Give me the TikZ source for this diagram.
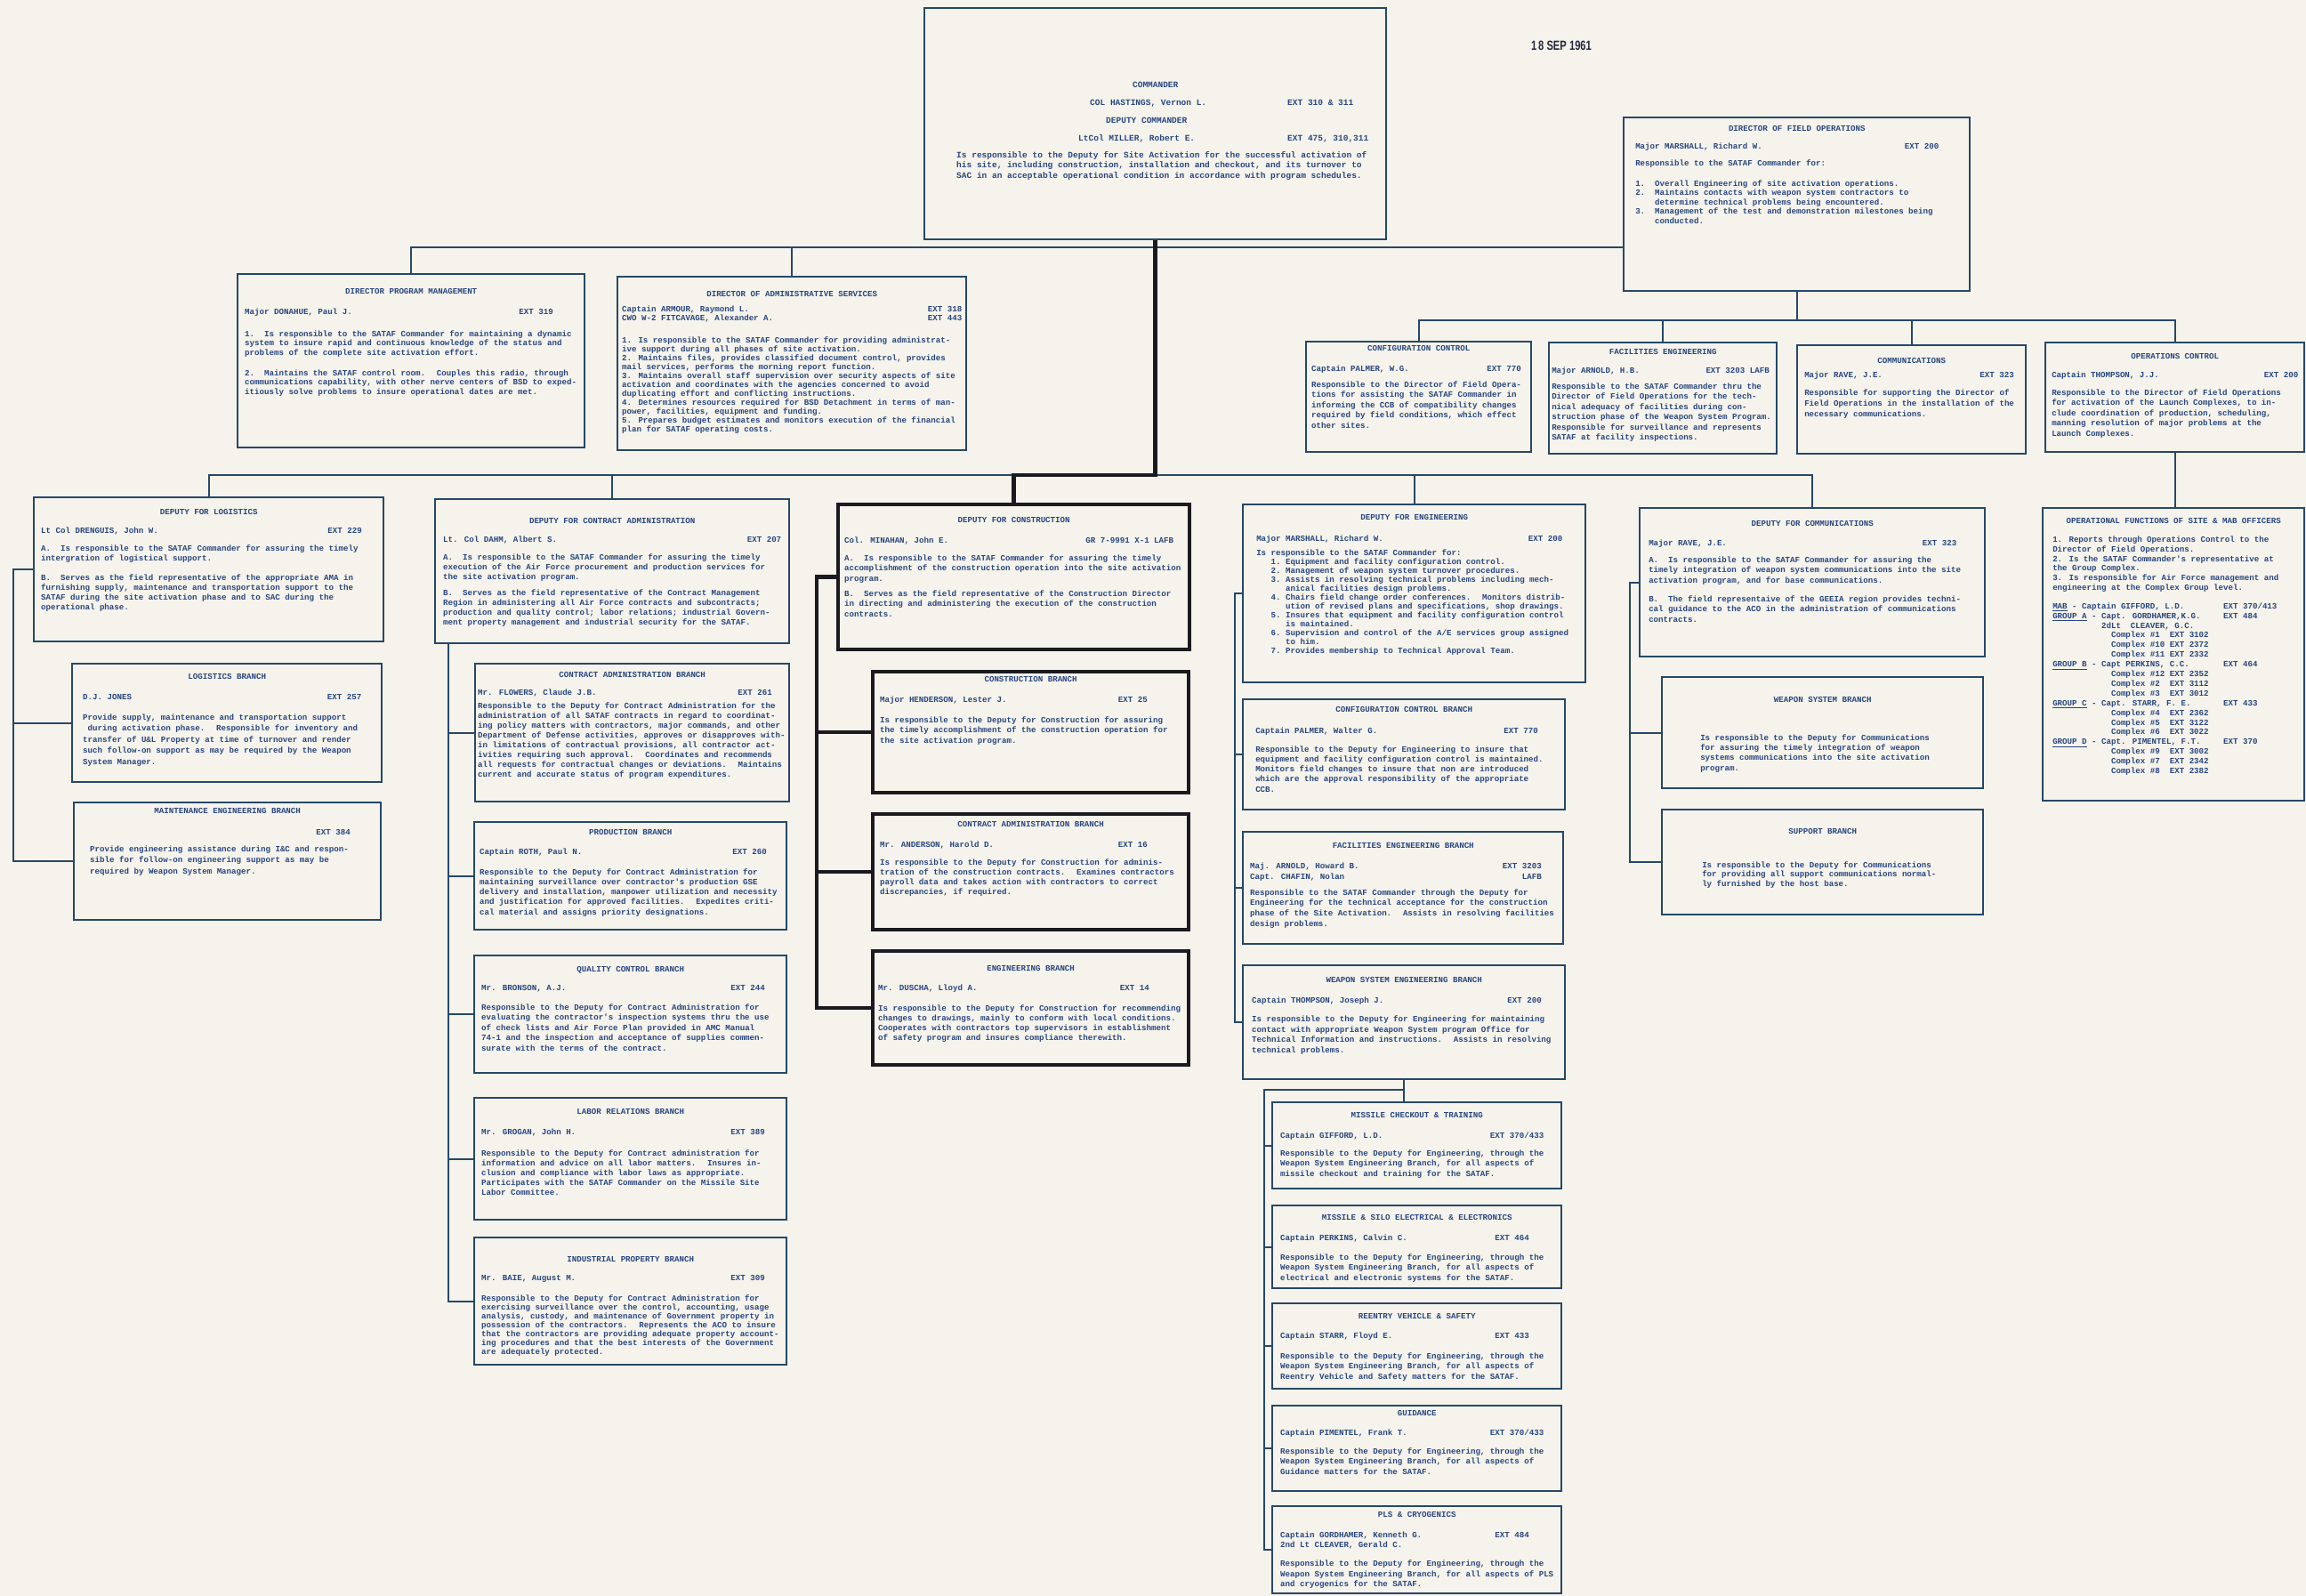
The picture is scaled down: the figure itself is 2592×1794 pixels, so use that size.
\documentclass[tikz,border=0pt]{standalone}
\usepackage{fontspec}
\newfontfamily\typefont{Liberation Mono}
\newfontfamily\stampfont{Liberation Sans}

\definecolor{paper}{RGB}{245,243,235}
\definecolor{ink}{RGB}{40,70,128}
\definecolor{rule}{RGB}{38,72,104}
\definecolor{heavy}{RGB}{26,26,32}
\definecolor{stampink}{RGB}{36,40,64}

% one drawing unit is one pixel of the sheet
\newdimen\pxu \pxu=0.02cm
\newdimen\chw
\newdimen\cardw
\newcommand\typestyle{\typefont\bfseries\fontsize{5.2pt}{5.4pt}\selectfont
  \baselineskip=11.5\pxu \settowidth\chw{0}\raggedright\parindent=0pt}
\newcommand\lsp[1]{\baselineskip=#1\pxu\relax}
\newcommand\gap[1]{\par\vskip#1\pxu\relax}
\newcommand\ttl[1]{\par\hbox to\cardw{\hss#1\hss}}
\newcommand\who[2]{\par\hbox to\cardw{#1\hfil#2}}
\newcommand\cols[1]{\par\hbox to\cardw{#1\hss}}
\newcommand\atpx[2]{\rlap{\hskip#1\pxu\relax#2}}
\newcommand\atch[2]{\rlap{\hskip#1\chw\relax#2}}
\newcommand\indch[1]{\hspace*{#1\chw}}
% width, height, side margin, top margin, typed text
\newcommand\cardbody[5]{%
  \cardw=\dimexpr\numexpr#1-2*#3\relax\pxu\relax
  \vbox to #2\pxu{\vskip#4\pxu
    \hbox to #1\pxu{\hskip#3\pxu
      \parbox[t]{\dimexpr\cardw+60\pxu\relax}{\typestyle #5}\hss}%
    \vss}}

\tikzset{
  card/.style={draw=rule, line width=1.4pt, inner sep=0pt, anchor=north west, text=ink},
  heavycard/.style={card, draw=heavy, line width=2.4pt},
  wire/.style={draw=rule, line width=1.3pt},
  stem/.style={draw=heavy, line width=2.6pt},
  stamp/.style={text=stampink, inner sep=0pt,
    font=\stampfont\bfseries\fontsize{8.5pt}{8.5pt}\selectfont},
}

\begin{document}
\begin{tikzpicture}[x=0.02cm, y=-0.02cm]
\useasboundingbox (0,0) rectangle (2592,1794);
\fill[paper] (0,0) rectangle (2592,1794);

\node[stamp] (stampdate) at (1755,51) {\scalebox{0.75}[1]{1\,8 SEP 1961}};

% commander and staff
\node[card] (cmd) at (1038,8) {\cardbody{519}{260}{36}{83}{%
\fontsize{5.4pt}{6pt}\selectfont\lsp{11.5}%
\ttl{COMMANDER}
\gap{8.5}
\cols{\atpx{150}{COL HASTINGS, Vernon L.}\atpx{372}{EXT 310 \& 311}}
\gap{8.5}
\cols{\atpx{168}{DEPUTY COMMANDER}}
\gap{8.5}
\cols{\atpx{137}{LtCol MILLER, Robert E.}\atpx{372}{EXT 475, 310,311}}
\gap{7}
Is responsible to the Deputy for Site Activation for the successful activation of\\
his site, including construction, installation and checkout, and its turnover to\\
SAC in an acceptable operational condition in accordance with program schedules.}};

\node[card] (dfo) at (1824,131) {\cardbody{389}{195}{13}{9}{%
\ttl{DIRECTOR OF FIELD OPERATIONS}
\gap{8.5}
\who{Major MARSHALL, Richard W.}{EXT 200\indch{4}}
\gap{8.5}
Responsible to the SATAF Commander for:
\lsp{10.5}\gap{12.5}
1.\indch{2}Overall Engineering of site activation operations.\\
2.\indch{2}Maintains contacts with weapon system contractors to\\
\indch{4}determine technical problems being encountered.\\
3.\indch{2}Management of the test and demonstration milestones being\\
\indch{4}conducted.}};

\node[card] (dpm) at (266,307) {\cardbody{390}{195}{8}{16}{%
\ttl{DIRECTOR PROGRAM MANAGEMENT}
\gap{11.5}
\who{Major DONAHUE, Paul J.}{EXT 319\indch{5}}
\lsp{10.5}\gap{14.5}
1.\indch{2}Is responsible to the SATAF Commander for maintaining a dynamic\\
system to insure rapid and continuous knowledge of the status and\\
problems of the complete site activation effort.
\gap{12.5}
2.\indch{2}Maintains the SATAF control room.~ Couples this radio, through\\
communications capability, with other nerve centers of BSD to exped-\\
itiously solve problems to insure operational dates are met.}};

\node[card] (das) at (693,310) {\cardbody{392}{195}{5}{16}{%
\lsp{10}%
\ttl{DIRECTOR OF ADMINISTRATIVE SERVICES}
\gap{7}
\who{Captain ARMOUR, Raymond L.}{EXT 318}
\who{CWO W-2 FITCAVAGE, Alexander A.}{EXT 443}
\gap{15}
1. Is responsible to the SATAF Commander for providing administrat-\\
ive support during all phases of site activation.\\
2. Maintains files, provides classified document control, provides\\
mail services, performs the morning report function.\\
3. Maintains overall staff supervision over security aspects of site\\
activation and coordinates with the agencies concerned to avoid\\
duplicating effort and conflicting instructions.\\
4. Determines resources required for BSD Detachment in terms of man-\\
power, facilities, equipment and funding.\\
5. Prepares budget estimates and monitors execution of the financial\\
plan for SATAF operating costs.}};

% offices under field operations
\node[card] (cfg) at (1467,383) {\cardbody{253}{124}{6}{4}{%
\ttl{CONFIGURATION CONTROL}
\gap{11.5}
\who{Captain PALMER, W.G.}{EXT 770\indch{1}}
\gap{6.5}
Responsible to the Director of Field Opera-\\
tions for assisting the SATAF Commander in\\
informing the CCB of compatibility changes\\
required by field conditions, which effect\\
other sites.}};

\node[card] (fac) at (1740,384) {\cardbody{256}{125}{3}{7}{%
\ttl{FACILITIES ENGINEERING}
\gap{9.5}
\who{Major ARNOLD, H.B.}{EXT 3203 LAFB\indch{1}}
\gap{6.5}
Responsible to the SATAF Commander thru the\\
Director of Field Operations for the tech-\\
nical adequacy of facilities during con-\\
struction phase of the Weapon System Program.\\
Responsible for surveillance and represents\\
SATAF at facility inspections.}};

\node[card] (cmn) at (2019,387) {\cardbody{257}{122}{8}{14}{%
\ttl{COMMUNICATIONS}
\gap{4.5}
\who{Major RAVE, J.E.}{EXT 323\indch{1}}
\lsp{12}\gap{8}
Responsible for supporting the Director of\\
Field Operations in the installation of the\\
necessary communications.}};

\node[card] (opc) at (2298,384) {\cardbody{291}{123}{7}{12}{%
\ttl{OPERATIONS CONTROL}
\gap{9.5}
\who{Captain THOMPSON, J.J.}{EXT 200}
\gap{8.5}
Responsible to the Director of Field Operations\\
for activation of the Launch Complexes, to in-\\
clude coordination of production, scheduling,\\
manning resolution of major problems at the\\
Launch Complexes.}};

\node[card] (opf) at (2295,570) {\cardbody{294}{329}{11}{11}{%
\lsp{10.9}%
\ttl{OPERATIONAL FUNCTIONS OF SITE \& MAB OFFICERS}
\gap{10}
1. Reports through Operations Control to the\\
Director of Field Operations.\\
2. Is the SATAF Commander's representative at\\
the Group Complex.\\
3. Is responsible for Air Force management and\\
engineering at the Complex Group level.
\gap{9.6}
\cols{\atch{0}{\underline{MAB} - Captain GIFFORD, L.D.}\atch{35}{EXT 370/413}}
\cols{\atch{0}{\underline{GROUP A} - Capt. GORDHAMER,K.G.}\atch{35}{EXT 484}}
\cols{\atch{10}{2dLt~ CLEAVER, G.C.}}
\cols{\atch{12}{Complex \#1}\atch{24}{EXT 3102}}
\cols{\atch{12}{Complex \#10}\atch{24}{EXT 2372}}
\cols{\atch{12}{Complex \#11}\atch{24}{EXT 2332}}
\cols{\atch{0}{\underline{GROUP B} - Capt PERKINS, C.C.}\atch{35}{EXT 464}}
\cols{\atch{12}{Complex \#12}\atch{24}{EXT 2352}}
\cols{\atch{12}{Complex \#2}\atch{24}{EXT 3112}}
\cols{\atch{12}{Complex \#3}\atch{24}{EXT 3012}}
\cols{\atch{0}{\underline{GROUP C} - Capt. STARR, F. E.}\atch{35}{EXT 433}}
\cols{\atch{12}{Complex \#4}\atch{24}{EXT 2362}}
\cols{\atch{12}{Complex \#5}\atch{24}{EXT 3122}}
\cols{\atch{12}{Complex \#6}\atch{24}{EXT 3022}}
\cols{\atch{0}{\underline{GROUP D} - Capt. PIMENTEL, F.T.}\atch{35}{EXT 370}}
\cols{\atch{12}{Complex \#9}\atch{24}{EXT 3002}}
\cols{\atch{12}{Complex \#7}\atch{24}{EXT 2342}}
\cols{\atch{12}{Complex \#8}\atch{24}{EXT 2382}}}};

% logistics
\node[card] (dlog) at (37,558) {\cardbody{393}{162}{8}{13}{%
\lsp{11}%
\ttl{DEPUTY FOR LOGISTICS}
\gap{10}
\who{Lt Col DRENGUIS, John W.}{EXT 229\indch{3}}
\gap{9}
A.\indch{2}Is responsible to the SATAF Commander for assuring the timely\\
intergration of logistical support.
\gap{11}
B.\indch{2}Serves as the field representative of the appropriate AMA in\\
furnishing supply, maintenance and transportation support to the\\
SATAF during the site activation phase and to SAC during the\\
operational phase.}};

\node[card] (lbr) at (80,745) {\cardbody{348}{133}{12}{11}{%
\lsp{12.5}%
\ttl{LOGISTICS BRANCH}
\gap{10.5}
\who{D.J. JONES}{EXT 257\indch{2}}
\gap{10.5}
Provide supply, maintenance and transportation support\\
\indch{1}during activation phase.~ Responsible for inventory and\\
transfer of U\&L Property at time of turnover and render\\
such follow-on support as may be required by the Weapon\\
System Manager.}};

\node[card] (mnt) at (82,901) {\cardbody{345}{132}{18}{6}{%
\lsp{12.5}%
\ttl{MAINTENANCE ENGINEERING BRANCH}
\gap{11.5}
\who{}{EXT 384\indch{3}}
\gap{6.5}
Provide engineering assistance during I\&C and respon-\\
sible for follow-on engineering support as may be\\
required by Weapon System Manager.}};

% contract administration
\node[card] (dca) at (488,560) {\cardbody{398}{162}{9}{21}{%
\lsp{11}%
\ttl{DEPUTY FOR CONTRACT ADMINISTRATION}
\gap{10}
\who{Lt. Col DAHM, Albert S.}{EXT 207}
\gap{9}
A.\indch{2}Is responsible to the SATAF Commander for assuring the timely\\
execution of the Air Force procurement and production services for\\
the site activation program.
\gap{7}
B.\indch{2}Serves as the field representative of the Contract Management\\
Region in administering all Air Force contracts and subcontracts;\\
production and quality control; labor relations; industrial Govern-\\
ment property management and industrial security for the SATAF.}};

\node[card] (cab) at (533,745) {\cardbody{353}{155}{3}{9}{%
\lsp{11}%
\ttl{CONTRACT ADMINISTRATION BRANCH}
\gap{9}
\who{Mr. FLOWERS, Claude J.B.}{EXT 261\indch{3}}
\gap{4}
Responsible to the Deputy for Contract Administration for the\\
administration of all SATAF contracts in regard to coordinat-\\
ing policy matters with contractors, major commands, and other\\
Department of Defense activities, approves or disapproves with-\\
in limitations of contractual provisions, all contractor act-\\
ivities requiring such approval.~ Coordinates and recommends\\
all requests for contractual changes or deviations.~ Maintains\\
current and accurate status of program expenditures.}};

\node[card] (prd) at (532,923) {\cardbody{351}{121}{6}{8}{%
\lsp{11.2}%
\ttl{PRODUCTION BRANCH}
\gap{10.8}
\who{Captain ROTH, Paul N.}{EXT 260\indch{3}}
\gap{11.8}
Responsible to the Deputy for Contract Administration for\\
maintaining surveillance over contractor's production GSE\\
delivery and installation, manpower utilization and necessity\\
and justification for approved facilities.~ Expedites criti-\\
cal material and assigns priority designations.}};

\node[card] (qcb) at (532,1073) {\cardbody{351}{132}{8}{12}{%
\ttl{QUALITY CONTROL BRANCH}
\gap{9.5}
\who{Mr. BRONSON, A.J.}{EXT 244\indch{3}}
\gap{10.5}
Responsible to the Deputy for Contract Administration for\\
evaluating the contractor's inspection systems thru the use\\
of check lists and Air Force Plan provided in AMC Manual\\
74-1 and the inspection and acceptance of supplies commen-\\
surate with the terms of the contract.}};

\node[card] (lrb) at (532,1233) {\cardbody{351}{137}{8}{12}{%
\lsp{11}%
\ttl{LABOR RELATIONS BRANCH}
\gap{12}
\who{Mr. GROGAN, John H.}{EXT 389\indch{3}}
\gap{13}
Responsible to the Deputy for Contract administration for\\
information and advice on all labor matters.~ Insures in-\\
clusion and compliance with labor laws as appropriate.\\
Participates with the SATAF Commander on the Missile Site\\
Labor Committee.}};

\node[card] (ipb) at (532,1390) {\cardbody{351}{143}{8}{21}{%
\lsp{10}%
\ttl{INDUSTRIAL PROPERTY BRANCH}
\gap{11}
\who{Mr. BAIE, August M.}{EXT 309\indch{3}}
\gap{13}
Responsible to the Deputy for Contract Administration for\\
exercising surveillance over the control, accounting, usage\\
analysis, custody, and maintenance of Government property in\\
possession of the contractors.~ Represents the ACO to insure\\
that the contractors are providing adequate property account-\\
ing procedures and that the best interests of the Government\\
are adequately protected.}};

% construction
\node[heavycard] (dcon) at (940,565) {\cardbody{395}{163}{7}{14}{%
\ttl{DEPUTY FOR CONSTRUCTION}
\gap{11.5}
\who{Col. MINAHAN, John E.}{GR 7-9991 X-1 LAFB\indch{2}}
\gap{8.5}
A.\indch{2}Is responsible to the SATAF Commander for assuring the timely\\
accomplishment of the construction operation into the site activation\\
program.
\gap{5.5}
B.\indch{2}Serves as the field representative of the Construction Director\\
in directing and administering the execution of the construction\\
contracts.}};

\node[heavycard] (cbr) at (979,753) {\cardbody{355}{136}{8}{5}{%
\ttl{CONSTRUCTION BRANCH}
\gap{11.5}
\who{Major HENDERSON, Lester J.}{EXT 25\indch{7}}
\gap{11.5}
Is responsible to the Deputy for Construction for assuring\\
the timely accomplishment of the construction operation for\\
the site activation program.}};

\node[heavycard] (cadm) at (979,913) {\cardbody{355}{130}{8}{8}{%
\lsp{11}%
\ttl{CONTRACT ADMINISTRATION BRANCH}
\gap{12}
\who{Mr. ANDERSON, Harold D.}{EXT 16\indch{7}}
\gap{9}
Is responsible to the Deputy for Construction for adminis-\\
tration of the construction contracts.~ Examines contractors\\
payroll data and takes action with contractors to correct\\
discrepancies, if required.}};

\node[heavycard] (ebr) at (979,1067) {\cardbody{355}{128}{6}{16}{%
\lsp{11}%
\ttl{ENGINEERING BRANCH}
\gap{11}
\who{Mr. DUSCHA, Lloyd A.}{EXT 14\indch{7}}
\gap{12}
Is responsible to the Deputy for Construction for recommending\\
changes to drawings, mainly to conform with local conditions.\\
Cooperates with contractors top supervisors in establishment\\
of safety program and insures compliance therewith.}};

% engineering
\node[card] (deng) at (1396,566) {\cardbody{385}{200}{15}{11}{%
\ttl{DEPUTY FOR ENGINEERING}
\gap{12.5}
\who{Major MARSHALL, Richard W.}{EXT 200\indch{2}}
\lsp{10}\gap{6}
Is responsible to the SATAF Commander for:\\
\indch{3}1.\indch{1}Equipment and facility configuration control.\\
\indch{3}2.\indch{1}Management of weapon system turnover procedures.\\
\indch{3}3.\indch{1}Assists in resolving technical problems including mech-\\
\indch{6}anical facilities design problems.\\
\indch{3}4.\indch{1}Chairs field change order conferences.~ Monitors distrib-\\
\indch{6}ution of revised plans and specifications, shop drawings.\\
\indch{3}5.\indch{1}Insures that equipment and facility configuration control\\
\indch{6}is maintained.\\
\indch{3}6.\indch{1}Supervision and control of the A/E services group assigned\\
\indch{6}to him.\\
\indch{3}7.\indch{1}Provides membership to Technical Approval Team.}};

\node[card] (ccb) at (1396,785) {\cardbody{362}{124}{14}{8}{%
\lsp{11.2}%
\ttl{CONFIGURATION CONTROL BRANCH}
\gap{12.8}
\who{Captain PALMER, Walter G.}{EXT 770\indch{3}}
\gap{9.8}
Responsible to the Deputy for Engineering to insure that\\
equipment and facility configuration control is maintained.\\
Monitors field changes to insure that non are introduced\\
which are the approval responsibility of the appropriate\\
CCB.}};

\node[card] (feb) at (1396,934) {\cardbody{360}{126}{8}{12}{%
\lsp{11.7}%
\ttl{FACILITIES ENGINEERING BRANCH}
\gap{11.3}
\who{Maj. ARNOLD, Howard B.}{EXT 3203\indch{3}}
\who{Capt. CHAFIN, Nolan}{LAFB\indch{3}}
\gap{6.3}
Responsible to the SATAF Commander through the Deputy for\\
Engineering for the technical acceptance for the construction\\
phase of the Site Activation.~ Assists in resolving facilities\\
design problems.}};

\node[card] (wse) at (1396,1084) {\cardbody{362}{128}{10}{13}{%
\lsp{11.7}%
\ttl{WEAPON SYSTEM ENGINEERING BRANCH}
\gap{11.3}
\who{Captain THOMPSON, Joseph J.}{EXT 200\indch{3}}
\gap{9.3}
Is responsible to the Deputy for Engineering for maintaining\\
contact with appropriate Weapon System program Office for\\
Technical Information and instructions.~ Assists in resolving\\
technical problems.}};

\node[card] (mck) at (1429,1238) {\cardbody{325}{97}{9}{11}{%
\ttl{MISSILE CHECKOUT \& TRAINING}
\gap{11.5}
\who{Captain GIFFORD, L.D.}{EXT 370/433\indch{2}}
\gap{8.5}
Responsible to the Deputy for Engineering, through the\\
Weapon System Engineering Branch, for all aspects of\\
missile checkout and training for the SATAF.}};

\node[card] (mse) at (1429,1354) {\cardbody{325}{93}{9}{10}{%
\ttl{MISSILE \& SILO ELECTRICAL \& ELECTRONICS}
\gap{11.5}
\who{Captain PERKINS, Calvin C.}{EXT 464\indch{5}}
\gap{10.5}
Responsible to the Deputy for Engineering, through the\\
Weapon System Engineering Branch, for all aspects of\\
electrical and electronic systems for the SATAF.}};

\node[card] (rvs) at (1429,1464) {\cardbody{325}{96}{9}{11}{%
\ttl{REENTRY VEHICLE \& SAFETY}
\gap{10.5}
\who{Captain STARR, Floyd E.}{EXT 433\indch{5}}
\gap{11.5}
Responsible to the Deputy for Engineering, through the\\
Weapon System Engineering Branch, for all aspects of\\
Reentry Vehicle and Safety matters for the SATAF.}};

\node[card] (gdn) at (1429,1579) {\cardbody{325}{96}{9}{5}{%
\ttl{GUIDANCE}
\gap{10.5}
\who{Captain PIMENTEL, Frank T.}{EXT 370/433\indch{2}}
\gap{9.5}
Responsible to the Deputy for Engineering, through the\\
Weapon System Engineering Branch, for all aspects of\\
Guidance matters for the SATAF.}};

\node[card] (pls) at (1429,1692) {\cardbody{325}{98}{9}{6}{%
\ttl{PLS \& CRYOGENICS}
\gap{11.5}
\who{Captain GORDHAMER, Kenneth G.}{EXT 484\indch{5}}
\who{2nd Lt CLEAVER, Gerald C.}{}
\gap{9.5}
Responsible to the Deputy for Engineering, through the\\
Weapon System Engineering Branch, for all aspects of PLS\\
and cryogenics for the SATAF.}};

% communications
\node[card] (dcom) at (1842,570) {\cardbody{388}{167}{10}{14}{%
\ttl{DEPUTY FOR COMMUNICATIONS}
\gap{10.5}
\who{Major RAVE, J.E.}{EXT 323\indch{4}}
\gap{7.5}
A.\indch{2}Is responsible to the SATAF Commander for assuring the\\
timely integration of weapon system communications into the site\\
activation program, and for base communications.
\gap{9.5}
B.\indch{2}The field representaive of the GEEIA region provides techni-\\
cal guidance to the ACO in the administration of communications\\
contracts.}};

\node[card] (wsb) at (1867,760) {\cardbody{361}{125}{43}{22}{%
\lsp{11.3}%
\ttl{WEAPON SYSTEM BRANCH}
\gap{31.7}
Is responsible to the Deputy for Communications\\
for assuring the timely integration of weapon\\
systems communications into the site activation\\
program.}};

\node[card] (sup) at (1867,909) {\cardbody{361}{118}{45}{21}{%
\lsp{10.5}%
\ttl{SUPPORT BRANCH}
\gap{27.5}
Is responsible to the Deputy for Communications\\
for providing all support communications normal-\\
ly furnished by the host base.}};

% connector lines
\coordinate (topbus) at (0,278);
\coordinate (fobus) at (0,360);
\coordinate (depbus) at (0,534);
\coordinate (lograil) at (15,0);
\coordinate (carail) at (504,0);
\coordinate (conrail) at (918,0);
\coordinate (engrail) at (1388,0);
\coordinate (mslrail) at (1421,0);
\coordinate (mslbus) at (0,1225);
\coordinate (comrail) at (1832,0);

\draw[wire] (dpm.north) |- (dfo.west |- topbus);
\draw[wire] (das.north) -- (das.north |- topbus);

\draw[wire] (dfo.south) -- (dfo.south |- fobus);
\draw[wire] (cfg.north) |- (opc.north |- fobus) -- (opc.north);
\draw[wire] (fac.north) -- (fac.north |- fobus);
\draw[wire] (cmn.north) -- (cmn.north |- fobus);
\draw[wire] (opc.south) -- (opc.south |- opf.north);

\draw[wire] (dlog.north) |- (dcom.north |- depbus) -- (dcom.north);
\draw[wire] (dca.north) -- (dca.north |- depbus);
\draw[wire] (deng.north) -- (deng.north |- depbus);
\draw[stem] (cmd.south) |- (dcon.north |- depbus) -- (dcon.north);

\draw[wire] (dlog.west) -| (lograil |- mnt.west) -- (mnt.west);
\draw[wire] (lbr.west) -- (lograil |- lbr.west);

\draw[wire] (carail |- dca.south) |- (ipb.west);
\foreach \b in {cab,prd,qcb,lrb}
  \draw[wire] (\b.west) -- (carail |- \b.west);

\draw[stem] (dcon.west) -| (conrail |- ebr.west) -- (ebr.west);
\foreach \b in {cbr,cadm}
  \draw[stem] (\b.west) -- (conrail |- \b.west);

\draw[wire] (deng.west) -| (engrail |- wse.west) -- (wse.west);
\foreach \b in {ccb,feb}
  \draw[wire] (\b.west) -- (engrail |- \b.west);
\draw[wire] (wse.south) -- (wse.south |- mck.north);
\draw[wire] (wse.south |- mslbus) -| (mslrail |- pls.west) -- (pls.west);
\foreach \b in {mck,mse,rvs,gdn}
  \draw[wire] (\b.west) -- (mslrail |- \b.west);

\draw[wire] (dcom.west) -| (comrail |- sup.west) -- (sup.west);
\draw[wire] (wsb.west) -- (comrail |- wsb.west);
\end{tikzpicture}
\end{document}
